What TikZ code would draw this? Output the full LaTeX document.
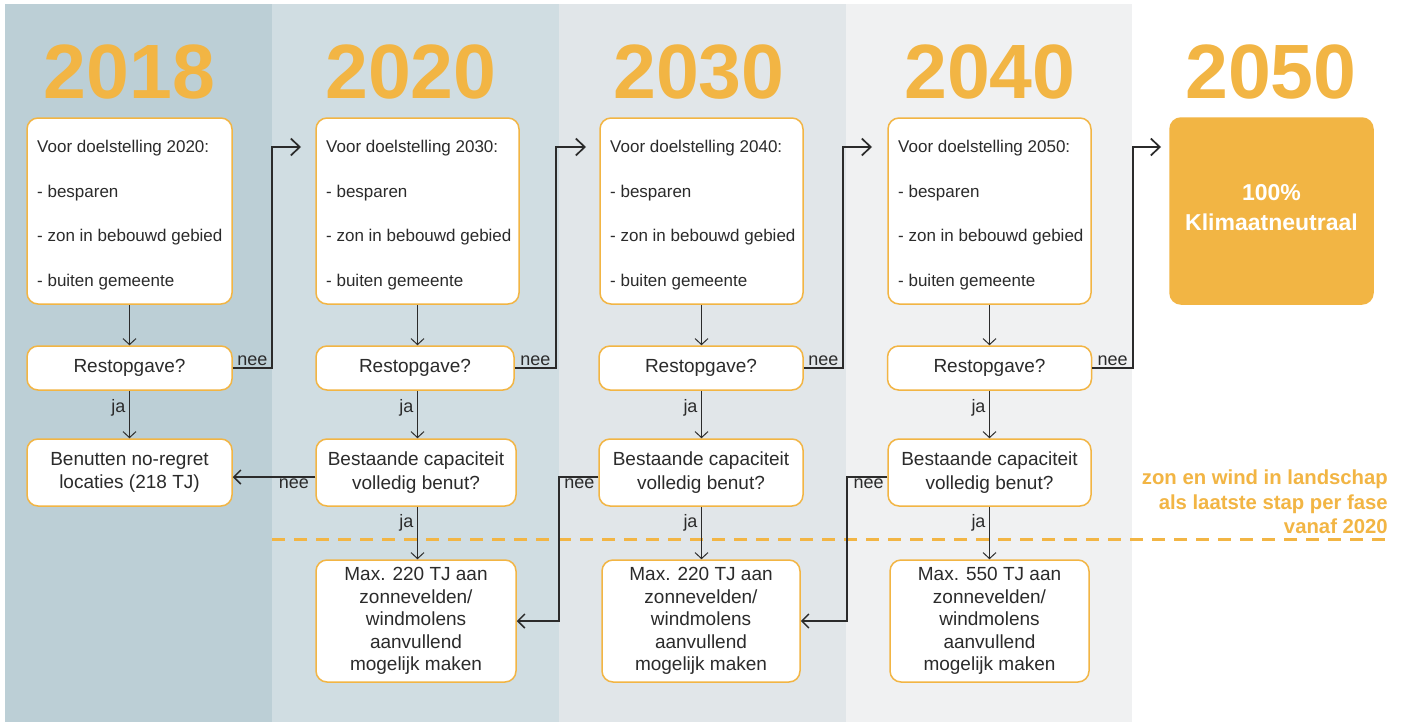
\documentclass[tikz,border=0pt]{standalone}
\usepackage{fontspec}
\setmainfont{Liberation Sans}
\usetikzlibrary{arrows.meta,calc}
\definecolor{orng}{HTML}{F2B544}
\definecolor{colA}{HTML}{BCCFD6}
\definecolor{colB}{HTML}{D0DDE2}
\definecolor{colC}{HTML}{E1E6E9}
\definecolor{colD}{HTML}{F0F1F2}
\definecolor{ink}{HTML}{2B2B2B}
\begin{document}
\begin{tikzpicture}[x=1pt,y=-1pt,
  box/.style={draw=orng, line width=1.5pt, fill=white, rounded corners=11pt, inner sep=0pt},
  boxtxt/.style={text=ink, font=\fontsize{19}{23.5}\selectfont, align=center},
  toptxt/.style={text=ink, font=\fontsize{17}{44.7}\selectfont, align=left, inner sep=0pt},
  year/.style={text=orng, font=\bfseries\fontsize{77}{80}\selectfont, inner sep=0pt},
  lbl/.style={text=ink, font=\fontsize{18}{20}\selectfont, inner sep=1.5pt},
  arr/.style={draw=ink, line width=1pt, -{Straight Barb[length=6pt,width=13pt]}},
  neearr/.style={draw=ink, line width=1.7pt, -{Straight Barb[length=9pt,width=17pt]}},
  neearrb/.style={draw=ink, line width=1.5pt, -{Straight Barb[length=7pt,width=14pt]}}
]
\useasboundingbox (0,0) rectangle (1405,725);
\fill[white] (0,0) rectangle (1405,725);
% columns
\fill[colA] (5,4) rectangle (272,722);
\fill[colB] (272,4) rectangle (559,722);
\fill[colC] (559,4) rectangle (846,722);
\fill[colD] (846,4) rectangle (1132,722);

% years
\node[year, anchor=base] (y2018) at (129.5,98) {2018};
\node[year, anchor=base] (y2020) at (411,98) {2020};
\node[year, anchor=base] (y2030) at (699,98) {2030};
\node[year, anchor=base] (y2040) at (990,98) {2040};
\node[year, anchor=base] (y2050) at (1271,98) {2050};

% dashed line
\draw[orng, line width=3pt, dash pattern=on 13pt off 9pt] (272,539) -- (1390,539);
\node[anchor=east, align=right, text=orng, inner sep=0pt, font=\bfseries\fontsize{20.3}{24.5}\selectfont] (note) at (1388,502) {zon en wind in landschap\\als laatste stap per fase\\vanaf 2020};

% column 1
\node[box, minimum width=205pt, minimum height=186pt] (top1) at (129.5,211) {};
\node[toptxt, anchor=west] (top1t) at (37,215) {Voor doelstelling 2020:\\- besparen\\- zon in bebouwd gebied\\- buiten gemeente};
\node[box, boxtxt, minimum width=205pt, minimum height=44pt] (rest1) at (129.5,368) {Restopgave?};
\node[box, boxtxt, minimum width=205pt, minimum height=67pt] (ben1) at (129.5,472.5) {Benutten no-regret\\locaties (218 TJ)};

% column 2
\node[box, minimum width=203pt, minimum height=186pt] (top2) at (417.5,211) {};
\node[toptxt, anchor=west] (top2t) at (326,215) {Voor doelstelling 2030:\\- besparen\\- zon in bebouwd gebied\\- buiten gemeente};
\node[box, boxtxt, minimum width=198pt, minimum height=44pt] (rest2) at (415,368) {Restopgave?};
\node[box, boxtxt, minimum width=200pt, minimum height=67pt] (best2) at (416,472.5) {Bestaande capaciteit\\volledig benut?};
\node[box, boxtxt, minimum width=200pt, minimum height=122pt, font=\fontsize{19}{22.5}\selectfont] (max2) at (416,621) {Max. 220 TJ aan\\zonnevelden/\\windmolens\\aanvullend\\mogelijk maken};

% column 3
\node[box, minimum width=203pt, minimum height=186pt] (top3) at (701.5,211) {};
\node[toptxt, anchor=west] (top3t) at (610,215) {Voor doelstelling 2040:\\- besparen\\- zon in bebouwd gebied\\- buiten gemeente};
\node[box, boxtxt, minimum width=204pt, minimum height=44pt] (rest3) at (701,368) {Restopgave?};
\node[box, boxtxt, minimum width=204pt, minimum height=67pt] (best3) at (701,472.5) {Bestaande capaciteit\\volledig benut?};
\node[box, boxtxt, minimum width=198pt, minimum height=122pt, font=\fontsize{19}{22.5}\selectfont] (max3) at (701,621) {Max. 220 TJ aan\\zonnevelden/\\windmolens\\aanvullend\\mogelijk maken};

% column 4
\node[box, minimum width=203pt, minimum height=186pt] (top4) at (989.5,211) {};
\node[toptxt, anchor=west] (top4t) at (898,215) {Voor doelstelling 2050:\\- besparen\\- zon in bebouwd gebied\\- buiten gemeente};
\node[box, boxtxt, minimum width=204pt, minimum height=44pt] (rest4) at (989.5,368) {Restopgave?};
\node[box, boxtxt, minimum width=203pt, minimum height=67pt] (best4) at (989.5,472.5) {Bestaande capaciteit\\volledig benut?};
\node[box, boxtxt, minimum width=199pt, minimum height=122pt, font=\fontsize{19}{22.5}\selectfont] (max4) at (989.5,621) {Max. 550 TJ aan\\zonnevelden/\\windmolens\\aanvullend\\mogelijk maken};

% 2050
\node[box, fill=orng, minimum width=203pt, minimum height=186pt] (goal) at (1271.5,211) {};
\node[text=white, align=center, inner sep=0pt, font=\bfseries\fontsize{23}{30}\selectfont] (goalt) at (1271.5,208) {100\%\\Klimaatneutraal};

% vertical arrows
\draw[arr] (top1.south) -- (top1.south |- rest1.north);
\draw[arr] (rest1.south) -- node[lbl, left=2pt, pos=0.35]{ja} (rest1.south |- ben1.north);
\draw[arr] (top2.south) -- (top2.south |- rest2.north);
\draw[arr] (top2.south |- rest2.south) -- node[lbl, left=2pt, pos=0.35]{ja} (top2.south |- best2.north);
\draw[arr] (top2.south |- best2.south) -- node[lbl, left=2pt, pos=0.3]{ja} (top2.south |- max2.north);
\draw[arr] (top3.south) -- (top3.south |- rest3.north);
\draw[arr] (top3.south |- rest3.south) -- node[lbl, left=2pt, pos=0.35]{ja} (top3.south |- best3.north);
\draw[arr] (top3.south |- best3.south) -- node[lbl, left=2pt, pos=0.3]{ja} (top3.south |- max3.north);
\draw[arr] (top4.south) -- (top4.south |- rest4.north);
\draw[arr] (top4.south |- rest4.south) -- node[lbl, left=2pt, pos=0.35]{ja} (top4.south |- best4.north);
\draw[arr] (top4.south |- best4.south) -- node[lbl, left=2pt, pos=0.3]{ja} (top4.south |- max4.north);

% nee from Restopgave to next column
\coordinate (k1) at (272,147); \coordinate (a1) at (301,147);
\coordinate (k2) at (556,147); \coordinate (a2) at (586,147);
\coordinate (k3) at (843,147); \coordinate (a3) at (872,147);
\coordinate (k4) at (1133,147); \coordinate (a4) at (1161,147);
\draw[neearr] (rest1.east) -- node[lbl, above]{nee} (rest1.east -| k1) -- (k1) -- (a1);
\draw[neearr] (rest2.east) -- node[lbl, above]{nee} (rest2.east -| k2) -- (k2) -- (a2);
\draw[neearr] (rest3.east) -- node[lbl, above]{nee} (rest3.east -| k3) -- (k3) -- (a3);
\draw[neearr] (rest4.east) -- node[lbl, above]{nee} (rest4.east -| k4) -- (k4) -- (a4);

% nee from Bestaande capaciteit
\coordinate (j3) at (559,550);
\coordinate (j4) at (847,550);
\draw[neearrb] ([yshift=-4.5pt]best2.west) -- node[lbl, below, pos=0.26]{nee} ([yshift=-4.5pt]ben1.east);
\draw[neearrb] ([yshift=-4.5pt]best3.west) -| node[lbl, below, pos=0.24]{nee} (j3) |- (max2.east);
\draw[neearrb] ([yshift=-4.5pt]best4.west) -| node[lbl, below, pos=0.23]{nee} (j4) |- (max3.east);
\end{tikzpicture}
\end{document}
